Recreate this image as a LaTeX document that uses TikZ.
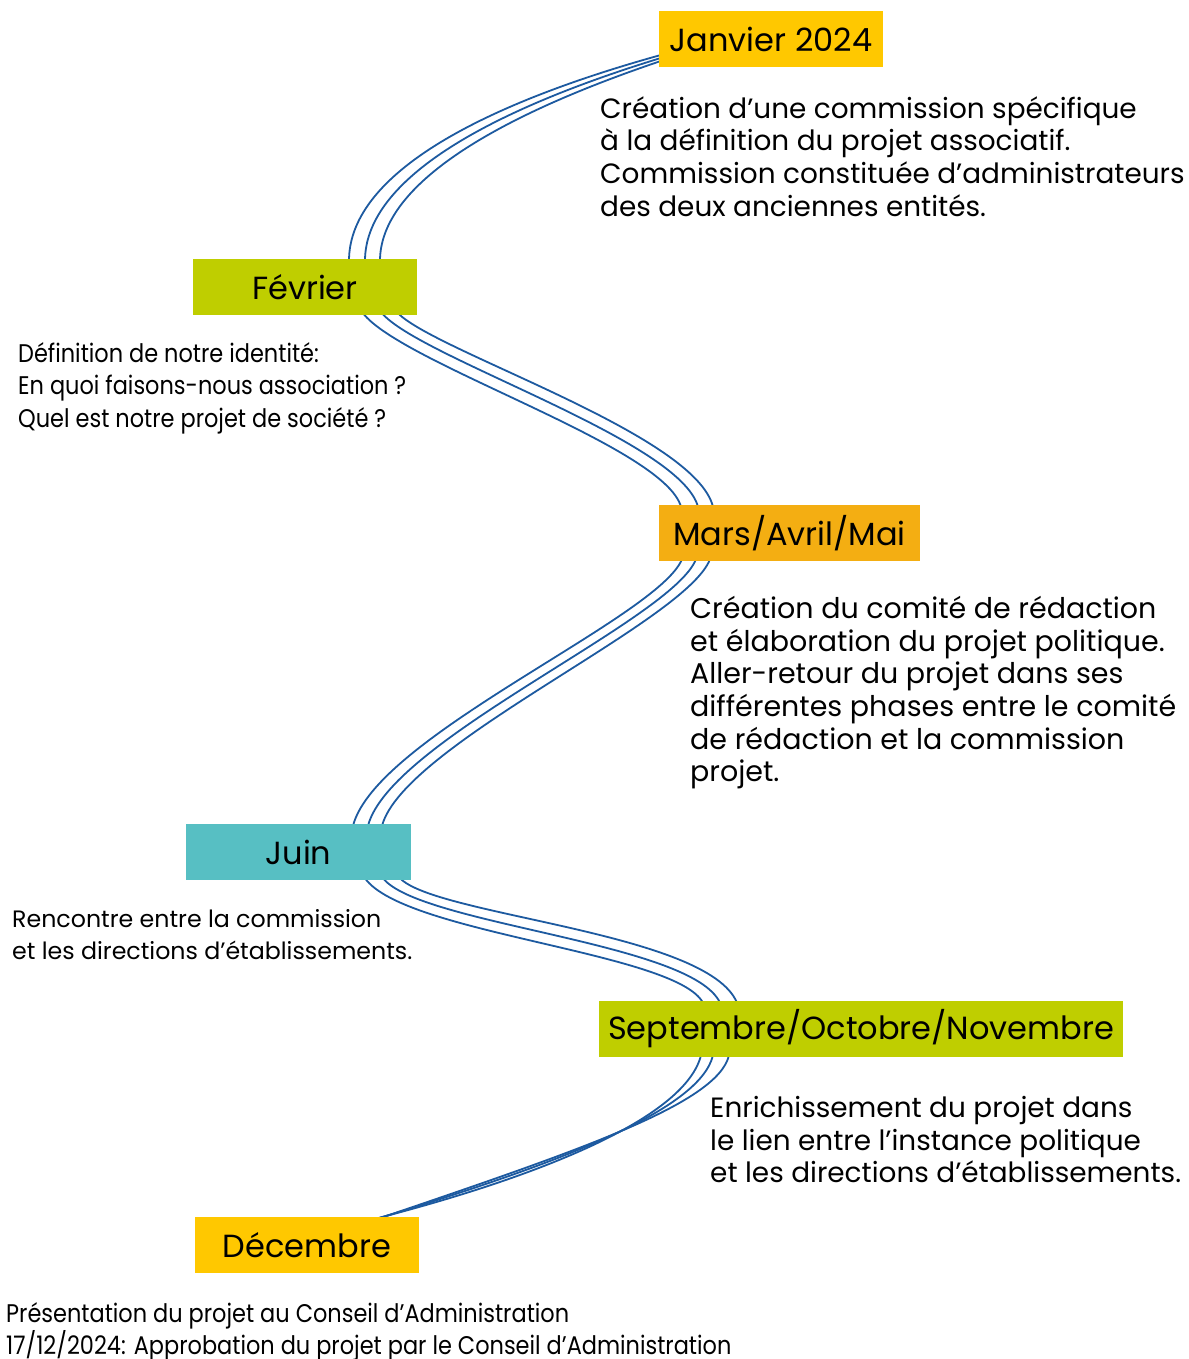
\documentclass[tikz,border=0pt]{standalone}
\usepackage{fontspec}
\setmainfont{Poppins}
\newfontfamily\descfont{Poppins}
\newfontfamily\narrowfont[FakeStretch=0.88]{Poppins}
\newfontfamily\labelfont{Poppins}
\usetikzlibrary{calc,backgrounds}
\definecolor{cyellow}{HTML}{FFC800}
\definecolor{corange}{HTML}{F4AE12}
\definecolor{cgreen}{HTML}{BFCE00}
\definecolor{cteal}{HTML}{57BFC3}
\definecolor{cblue}{HTML}{1D5AA0}
\tikzset{
  monthbox/.style={inner sep=0pt, minimum height=56pt, text=black,
    font=\labelfont\fontsize{32}{36}\selectfont},
  desctext/.style={anchor=north west, inner sep=0pt, align=left, text=black,
    font=\descfont\fontsize{27.9}{32.7}\selectfont},
  desctextwide/.style={anchor=north west, inner sep=0pt, align=left, text=black,
    font=\descfont\fontsize{28.5}{32.7}\selectfont},
  desctextsmall/.style={anchor=north west, inner sep=0pt, align=left, text=black,
    font=\descfont\fontsize{23.7}{32.7}\selectfont},
  narrowtext/.style={anchor=north west, inner sep=0pt, align=left, text=black,
    font=\narrowfont\fontsize{25.5}{32.5}\selectfont},
  wire/.style={draw=cblue, line width=1.8pt}
}
\begin{document}
\begin{tikzpicture}[x=1pt,y=-1pt]
\useasboundingbox (0,0) rectangle (1188,1359);

% month boxes
\node[monthbox, fill=cyellow, minimum width=224pt] (jan) at (771,39.5) {Janvier 2024};
\node[monthbox, fill=cgreen, minimum width=224pt] (fev) at (305,287) {Février};
\node[monthbox, fill=corange, minimum width=261pt] (mars) at (789.5,533) {Mars/Avril/Mai};
\node[monthbox, fill=cteal, minimum width=225pt] (juin) at (298.5,852) {Juin};
\node[monthbox, fill=cgreen, minimum width=524pt] (sept) at (861,1029) {Septembre/Octobre/Novembre};
\node[monthbox, fill=cyellow, minimum width=224pt] (dec) at (307,1245) {Décembre};

% descriptions
\node[desctext] (djan) at (600,96) {Création d’une commission spécifique\\à la définition du projet associatif.\\Commission constituée d’administrateurs\\des deux anciennes entités.};
\node[narrowtext] (dfev) at (18,342) {Définition de notre identité:\\En quoi faisons-nous association ?\\Quel est notre projet de société ?};
\node[desctextwide] (dmars) at (690,596) {Création du comité de rédaction\\et élaboration du projet politique.\\Aller-retour du projet dans ses\\différentes phases entre le comité\\de rédaction et la commission\\projet.};
\node[desctextsmall] (djuin) at (12,909) {Rencontre entre la commission\\et les directions d’établissements.};
\node[desctext] (dsept) at (710,1096) {Enrichissement du projet dans\\le lien entre l’instance politique\\et les directions d’établissements.};
\node[narrowtext] (ddec) at (6,1302) {Présentation du projet au Conseil d’Administration\\17/12/2024: Approbation du projet par le Conseil d’Administration};

% connectors
\begin{scope}[on background layer]
\fill[white] (0,0) rectangle (1188,1359);
% Janvier -> Fevrier
\draw[wire] ($(jan.west)+(2,15.5)$) .. controls (470,108) and (349,178) .. ($(fev.north)+(44,2)$);
\draw[wire] ($(jan.west)+(2,18.5)$) .. controls (478,114) and (365,183) .. ($(fev.north)+(60,2)$);
\draw[wire] ($(jan.west)+(2,21.5)$) .. controls (486,120) and (380,188) .. ($(fev.north)+(75,2)$);
% Fevrier -> Mars
\draw[wire] ($(fev.south)+(58,-2)$) .. controls (402,364) and (664,446) .. ($(mars.north)+(-108.5,2)$);
\draw[wire] ($(fev.south)+(77,-2)$) .. controls (420,358) and (680,440) .. ($(mars.north)+(-91.5,2)$);
\draw[wire] ($(fev.south)+(93,-2)$) .. controls (436,352) and (695,434) .. ($(mars.north)+(-76.5,2)$);
% Mars -> Juin
\draw[wire] ($(mars.south)+(-107.5,-2)$) .. controls (658,618) and (376,736) .. ($(juin.north)+(54.5,2)$);
\draw[wire] ($(mars.south)+(-93.5,-2)$) .. controls (672,620) and (390,740) .. ($(juin.north)+(69.5,2)$);
\draw[wire] ($(mars.south)+(-79.5,-2)$) .. controls (686,622) and (404,744) .. ($(juin.north)+(83.5,2)$);
% Juin -> Septembre
\draw[wire] ($(juin.south)+(66.5,-2)$) .. controls (404,934) and (676,952) .. ($(sept.north)+(-158,2)$);
\draw[wire] ($(juin.south)+(84.5,-2)$) .. controls (420,925) and (692,942) .. ($(sept.north)+(-141,2)$);
\draw[wire] ($(juin.south)+(101.5,-2)$) .. controls (436,916) and (708,932) .. ($(sept.north)+(-124,2)$);
% Septembre -> Decembre
\draw[wire] ($(sept.south)+(-160,-2)$) .. controls (686,1116) and (548,1174) .. ($(dec.north)+(72,1)$);
\draw[wire] ($(sept.south)+(-148,-2)$) .. controls (700,1110) and (560,1163) .. ($(dec.north)+(73,1)$);
\draw[wire] ($(sept.south)+(-132,-2)$) .. controls (718,1104) and (574,1152) .. ($(dec.north)+(74,1)$);
\end{scope}
\end{tikzpicture}
\end{document}
